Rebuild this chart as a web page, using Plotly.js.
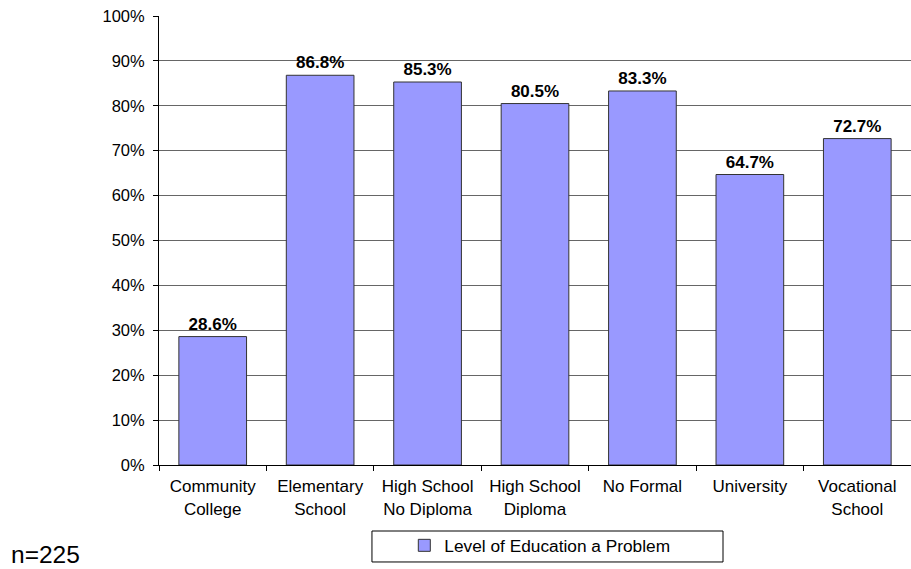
<!DOCTYPE html>
<html><head><meta charset="utf-8">
<script src="https://cdn.plot.ly/plotly-3.0.1.min.js"></script>
<style>html,body{margin:0;padding:0;background:#fff}#chart{width:911px;height:569px}</style>
</head><body><div id="chart"></div>
<script>
const categories = ["Community<br>College","Elementary<br>School","High School<br>No Diploma","High School<br>Diploma","No Formal","University","Vocational<br>School"];
const values = [28.6, 86.8, 85.3, 80.5, 83.3, 64.7, 72.7];
const seriesName = "Level of Education a Problem";
const note = "n=225";

const trace = {
  type: 'bar', x: categories, y: values, name: seriesName,
  marker: {color: '#9999FF', line: {color: '#333', width: 1}},
  width: 0.63,
  texttemplate: '<b>%{y:.1f}%</b>', textposition: 'outside', cliponaxis: false,
  textfont: {family: 'Liberation Sans, Arial', size: 17, color: '#000'},
  hoverinfo: 'none'
};
const layout = {
  width: 911, height: 569,
  margin: {l: 159, r: 0, t: 16, b: 104},
  paper_bgcolor: '#fff', plot_bgcolor: '#fff',
  font: {family: 'Liberation Sans, Arial', size: 17, color: '#000'},
  showlegend: true,
  legend: {orientation: 'h', x: 0.3262, xanchor: 'left', y: -0.1795, yanchor: 'middle',
    bgcolor: 'rgba(0,0,0,0)', borderwidth: 0, font: {size: 17.3}},
  shapes: [{type: 'rect', xref: 'paper', yref: 'paper', x0: 0.2832, x1: 0.75, y0: -0.216, y1: -0.147,
    line: {color: '#000', width: 1}, fillcolor: 'rgba(0,0,0,0)', layer: 'below'}],
  xaxis: {type: 'category', showline: true, linecolor: '#000', linewidth: 1,
    ticks: 'outside', ticklen: 5, tickcolor: '#000', tickson: 'boundaries',
    ticklabelstandoff: 6,
    showgrid: false, tickfont: {size: 17}, fixedrange: true},
  yaxis: {range: [0, 100], dtick: 10, ticksuffix: '%', showline: true, linecolor: '#000',
    linewidth: 1, ticks: 'outside', ticklen: 5, tickcolor: '#000', ticklabelstandoff: 5,
    gridcolor: '#666', gridwidth: 1, zeroline: false, tickfont: {size: 16.5}, fixedrange: true},
  bargap: 0.37,
  annotations: [{text: note, xref: 'paper', yref: 'paper', x: -0.1995, y: -0.2, xanchor: 'left', yanchor: 'middle',
    showarrow: false, font: {size: 24.5}}]
};
Plotly.newPlot('chart', [trace], layout, {displayModeBar: false, staticPlot: true});
</script></body></html>
